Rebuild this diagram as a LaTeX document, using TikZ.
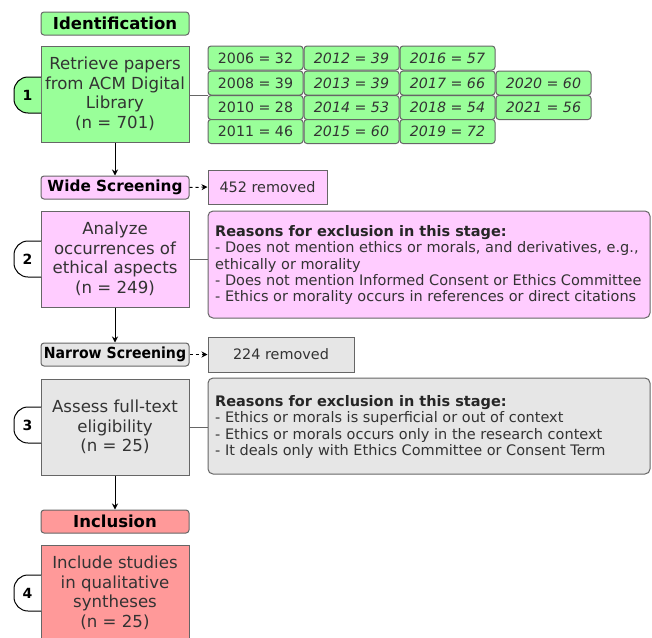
\documentclass[tikz,border=0pt]{standalone}
\usepackage{fontspec}
\setmainfont{DejaVu Sans}
\newfontfamily\narrowfont[FakeStretch=0.92]{DejaVu Sans}
\usetikzlibrary{arrows.meta}
\definecolor{gfill}{HTML}{99FF99}
\definecolor{pfill}{HTML}{FFCCFF}
\definecolor{efill}{HTML}{E6E6E6}
\definecolor{rfill}{HTML}{FF9999}
\definecolor{bord}{HTML}{666666}
\definecolor{txt}{HTML}{333333}
\tikzset{
  base/.style={draw=bord, line width=1pt, text=txt, inner sep=0pt, align=center},
  header/.style={base, rounded corners=3pt, minimum width=148pt, minimum height=23pt, font=\bfseries\fontsize{16.5}{18}\selectfont, text=black},
  stepbox/.style={base, minimum width=148pt, minimum height=96pt, font=\fontsize{16.6}{19.5}\selectfont},
  year/.style={base, rounded corners=3pt, minimum width=95pt, minimum height=24pt, fill=gfill, font=\fontsize{14.2}{16}\selectfont},
  yeari/.style={year, font=\itshape\fontsize{14.2}{16}\selectfont},
  removed/.style={base, font=\fontsize{14.4}{16}\selectfont},
  reasons/.style={base, rounded corners=5pt, align=left},
  reasontext/.style={anchor=west, align=left, inner sep=0pt, text=txt, font=\fontsize{14.5}{16.4}\selectfont},
  badge/.style={draw=black, line width=1pt, rounded corners=14pt},
  badgenum/.style={font=\bfseries\fontsize{14}{16}\selectfont, text=black, inner sep=0pt},
  conn/.style={draw=bord, line width=1pt},
  arr/.style={draw=black, line width=1pt, -{Stealth[length=6pt,width=6pt]}},
}
\begin{document}
\begin{tikzpicture}[x=1pt,y=-1pt]
\useasboundingbox (0,0) rectangle (652,637);
\clip (0,0) rectangle (652,637);
\fill[white] (0,0) rectangle (652,637);

% ---- Identification
\node[header, fill=gfill] (ident) at (115,23.5) {Identification};
\node[stepbox, fill=gfill] (s1) at (115,94) {Retrieve papers\\from ACM Digital\\Library\\(n = 701)};
\draw[badge, fill=gfill] (41,77) -- (14,77) -- (14,113) -- (41,113);
\node[badgenum] (b1) at (27.5,95) {1};

% years grid
\node[year]  (y06) at (255.5,58) {2006 = 32};
\node[yeari] (y12) at (351.5,58) {2012 = 39};
\node[yeari] (y16) at (447.5,58) {2016 = 57};
\node[year]  (y08) at (255.5,83) {2008 = 39};
\node[yeari] (y13) at (351.5,83) {2013 = 39};
\node[yeari] (y17) at (447.5,83) {2017 = 66};
\node[yeari] (y20) at (543.5,83) {2020 = 60};
\node[year]  (y10) at (255.5,107.5) {2010 = 28};
\node[yeari] (y14) at (351.5,107.5) {2014 = 53};
\node[yeari] (y18) at (447.5,107.5) {2018 = 54};
\node[yeari] (y21) at (543.5,107.5) {2021 = 56};
\node[year]  (y11) at (255.5,131.5) {2011 = 46};
\node[yeari] (y15) at (351.5,131.5) {2015 = 60};
\node[yeari] (y19) at (447.5,131.5) {2019 = 72};
\coordinate (g1) at (208,95);
\draw[conn] (s1.east |- g1) -- (g1);

% ---- Wide screening
\node[header, fill=pfill, font=\bfseries\fontsize{15.3}{18}\selectfont] (wide) at (115,187.5) {Wide Screening};
\node[removed, fill=pfill, minimum width=119pt, minimum height=34pt] (rm1) at (267.5,187) {452 removed};
\draw[arr] (s1.south) -- (wide.north);
\draw[arr, dashed] (wide.east) -- (rm1.west);

\node[stepbox, fill=pfill] (s2) at (115,259) {Analyze\\occurrences of\\ethical aspects\\(n = 249)};
\draw[badge, fill=white] (41,241) -- (14,241) -- (14,277) -- (41,277);
\node[badgenum] (b2) at (27.5,259) {2};
\node[reasons, fill=pfill, minimum width=442pt, minimum height=107pt] (r2) at (429,264.5) {};
\node[reasontext] (r2t) at (215,265)
{{\bfseries\color{black!85}Reasons for exclusion in this stage:}\\
- Does not mention ethics or morals, and derivatives, e.g.,\\
ethically or morality\\
- Does not mention Informed Consent or Ethics Committee\\
- Ethics or morality occurs in references or direct citations};
\draw[conn] (s2.east) -- (s2.east -| r2.west);

% ---- Narrow screening
\node[header, fill=efill, font=\narrowfont\bfseries\fontsize{15.3}{18}\selectfont] (narrow) at (115,354.5) {Narrow Screening};
\node[removed, fill=efill, minimum width=146pt, minimum height=35pt] (rm2) at (281,354.5) {224 removed};
\draw[arr] (s2.south) -- (narrow.north);
\draw[arr, dashed] (narrow.east) -- (rm2.west);

\node[stepbox, fill=efill] (s3) at (115,427) {Assess full-text\\eligibility\\(n = 25)};
\draw[badge, fill=white] (41,407) -- (14,407) -- (14,443) -- (41,443);
\node[badgenum] (b3) at (27.5,425) {3};
\node[reasons, fill=efill, minimum width=442pt, minimum height=96pt] (r3) at (429,426) {};
\node[reasontext] (r3t) at (215,427)
{{\bfseries\color{black!85}Reasons for exclusion in this stage:}\\
- Ethics or morals is superficial or out of context\\
- Ethics or morals occurs only in the research context\\
- It deals only with Ethics Committee or Consent Term};
\draw[conn] (s3.east) -- (s3.east -| r3.west);

% ---- Inclusion
\node[header, fill=rfill] (incl) at (115,521.5) {Inclusion};
\draw[arr] (s3.south) -- (incl.north);
\node[stepbox, fill=rfill] (s4) at (115,593) {Include studies\\in qualitative\\syntheses\\(n = 25)};
\draw[badge, fill=white] (41,575) -- (14,575) -- (14,611) -- (41,611);
\node[badgenum] (b4) at (27.5,593) {4};
\end{tikzpicture}
\end{document}
